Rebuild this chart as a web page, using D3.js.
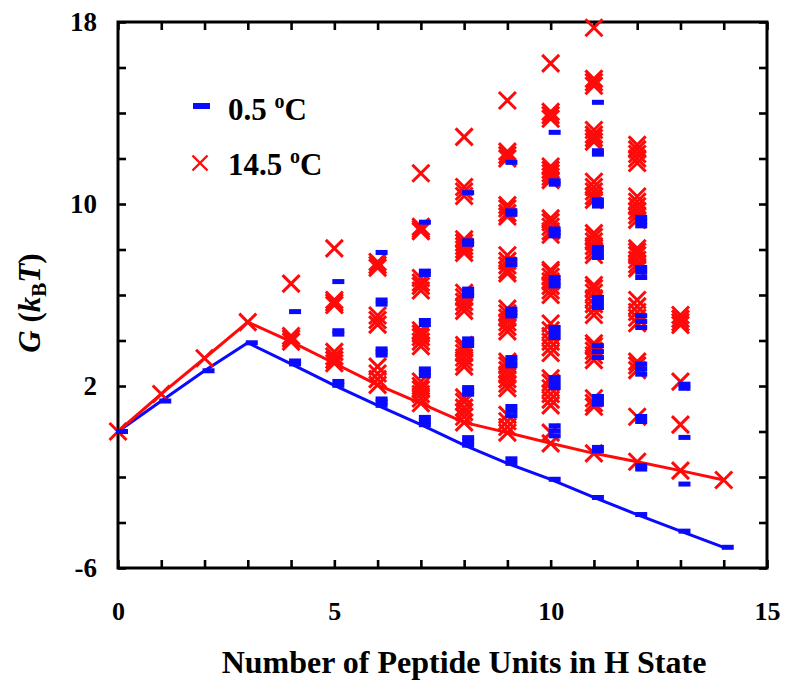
<!DOCTYPE html>
<html>
<head>
<meta charset="utf-8">
<script src="https://cdn.jsdelivr.net/npm/d3@7"></script>
<style>
  html, body { margin: 0; padding: 0; background: #fff; }
  svg { display: block; }
  text { font-family: "Liberation Serif", "Times New Roman", serif; font-weight: bold; fill: #000; }
</style>
</head>
<body>
<svg id="chart" width="785" height="681"></svg>
<script>
// ---- data ----
const nUnits = [0, 1, 2, 3, 4, 5, 6, 7, 8, 9, 10, 11, 12, 13, 14];

// lowest-G path at each n
const blueLine = [0, 1.34, 2.67, 3.9, 2.97, 2.03, 1.15, 0.3, -0.6, -1.4, -2.1, -2.9, -3.65, -4.38, -5.09];
const redLine  = [0, 1.65, 3.22, 4.81, 3.95, 3.0, 2.05, 1.24, 0.4, -0.05, -0.52, -0.96, -1.33, -1.72, -2.13];

// all G values (kBT) at each n, 0.5 °C
const blueG = [
  [0],
  [1.34],
  [2.67],
  [3.9],
  [2.97, 3.1, 5.27],
  [2.03, 2.2, 4.28, 4.43, 6.59],
  [1.15, 1.3, 1.43, 3.36, 3.5, 3.63, 5.6, 5.78, 7.87],
  [0.3, 0.45, 0.62, 2.45, 2.6, 2.75, 4.7, 4.88, 6.9, 7.05, 9.2],
  [-0.6, -0.43, -0.27, 1.64, 1.79, 1.93, 3.78, 3.92, 4.07, 5.96, 6.1, 6.26, 8.23, 8.38, 10.5],
  [-1.4, -1.2, 0.69, 0.9, 1.1, 2.89, 3.07, 3.25, 5.08, 5.22, 5.38, 7.33, 7.55, 9.55, 9.7, 11.83],
  [-2.1, -0.19, 0.03, 0.25, 1.93, 2.15, 2.37, 4.13, 4.35, 4.57, 6.4, 6.58, 6.77, 8.6, 8.75, 8.9, 10.87, 11.02, 13.15],
  [-2.9, -0.85, -0.7, 1.2, 1.38, 1.54, 3.25, 3.51, 3.77, 5.45, 5.67, 5.89, 7.65, 7.87, 8.09, 9.91, 10.05, 10.18, 12.19, 12.34, 14.47],
  [-3.65, -1.65, -1.5, 0.44, 0.66, 2.52, 2.75, 2.96, 4.57, 4.83, 5.09, 6.77, 7.0, 7.21, 9.04, 9.22, 9.41],
  [-4.38, -2.31, -0.26, 1.9, 2.08],
  [-5.09]
];

// all G values (kBT) at each n, 14.5 °C
const redG = [
  [0],
  [1.65],
  [3.22],
  [4.81],
  [3.95, 4.08, 4.2, 6.5],
  [3.0, 3.15, 3.3, 3.5, 5.56, 5.67, 5.78, 8.05],
  [2.05, 2.3, 2.55, 2.85, 4.7, 4.9, 5.1, 7.2, 7.32, 7.45],
  [1.24, 1.45, 1.65, 1.85, 2.0, 2.2, 3.75, 3.95, 4.15, 4.3, 4.45, 6.2, 6.4, 6.55, 6.75, 8.8, 8.9, 9.0, 11.35],
  [0.4, 0.65, 0.85, 1.05, 1.3, 1.5, 2.85, 3.05, 3.25, 3.45, 3.65, 3.8, 5.3, 5.5, 5.7, 5.9, 6.1, 7.85, 8.0, 8.15, 8.3, 8.45, 10.35, 10.55, 10.75, 12.95],
  [-0.05, 0.2, 0.45, 0.73, 1.9, 2.1, 2.3, 2.5, 2.7, 2.9, 3.07, 4.4, 4.6, 4.8, 5.0, 5.2, 5.4, 6.95, 7.1, 7.3, 7.5, 7.75, 9.45, 9.6, 9.8, 9.95, 12.0, 12.15, 12.3, 14.55],
  [-0.52, -0.05, 1.15, 1.4, 1.65, 1.9, 2.15, 2.34, 3.45, 3.7, 3.95, 4.2, 4.45, 4.75, 6.0, 6.2, 6.4, 6.6, 6.8, 7.0, 7.1, 8.65, 8.8, 9.0, 9.2, 9.37, 11.05, 11.2, 11.35, 11.5, 11.65, 13.75, 13.9, 14.05, 16.18],
  [-0.96, 1.09, 1.25, 1.46, 3.14, 3.35, 3.55, 3.75, 3.88, 5.12, 5.35, 5.6, 5.85, 6.1, 6.3, 6.44, 7.76, 7.95, 8.15, 8.35, 8.55, 8.72, 10.18, 10.35, 10.55, 10.75, 10.98, 12.74, 12.9, 13.05, 13.25, 15.2, 15.35, 15.5, 17.75],
  [-1.33, 0.65, 2.7, 2.9, 3.07, 4.76, 5.0, 5.25, 5.5, 5.78, 7.17, 7.35, 7.55, 7.75, 7.9, 8.05, 9.3, 9.5, 9.7, 9.9, 10.1, 10.33, 11.8, 12.0, 12.2, 12.4, 12.6],
  [-1.72, 0.3, 2.19, 4.68, 4.8, 4.95, 5.12],
  [-2.13]
];

const seriesNames = ["0.5", "14.5"];
const xTickLabels = [0, 5, 10, 15];
const yTickLabels = [-6, 2, 10, 18];
const xTicks = d3.range(0, 16, 1);
const yTicks = d3.range(-6, 19, 2);
const xTitle = "Number of Peptide Units in H State";

// ---- layout ----
const BLUE = "#0a0aff", RED = "#ff0a0a";
const svg = d3.select("#chart");
const x = d3.scaleLinear().domain([0, 15]).range([118, 767]);
const y = d3.scaleLinear().domain([-6, 18]).range([568, 22]);

// ticks (inward) via d3 axes
function styleAxis(g) {
  g.select(".domain").remove();
  g.selectAll(".tick line").attr("stroke", "#000").attr("stroke-width", 2.6);
  g.selectAll(".tick text").remove();
}
svg.append("g").attr("transform", `translate(0,${y(-6)})`)
  .call(d3.axisBottom(x).tickValues(xTicks).tickSize(-8).tickFormat("")).call(styleAxis);
svg.append("g").attr("transform", `translate(0,${y(18)})`)
  .call(d3.axisTop(x).tickValues(xTicks).tickSize(-8).tickFormat("")).call(styleAxis);
svg.append("g").attr("transform", `translate(${x(0)},0)`)
  .call(d3.axisLeft(y).tickValues(yTicks).tickSize(-8).tickFormat("")).call(styleAxis);
svg.append("g").attr("transform", `translate(${x(15)},0)`)
  .call(d3.axisRight(y).tickValues(yTicks).tickSize(-8).tickFormat("")).call(styleAxis);

// frame
svg.append("rect")
  .attr("x", x(0)).attr("y", y(18))
  .attr("width", x(15) - x(0)).attr("height", y(-6) - y(18))
  .attr("fill", "none").attr("stroke", "#000").attr("stroke-width", 3);

// tick labels
svg.append("g").selectAll("text").data(xTickLabels).join("text")
  .attr("x", d => x(d) + 0.5).attr("y", 620)
  .attr("text-anchor", "middle").attr("font-size", 26)
  .text(d => d);
svg.append("g").selectAll("text").data(yTickLabels).join("text")
  .attr("x", 97).attr("y", d => y(d) + 9)
  .attr("text-anchor", "end").attr("font-size", 27)
  .text(d => d);

// axis titles
svg.append("text").attr("x", 464).attr("y", 673)
  .attr("text-anchor", "middle").attr("font-size", 32).text(xTitle);

const yt = svg.append("text")
  .attr("transform", "translate(40,303) rotate(-90)")
  .attr("text-anchor", "middle").attr("font-size", 31);
yt.append("tspan").attr("font-style", "italic").text("G");
yt.append("tspan").text(" (");
yt.append("tspan").attr("font-style", "italic").text("k");
yt.append("tspan").attr("font-size", 21).attr("dy", 6).text("B");
yt.append("tspan").attr("font-style", "italic").attr("dy", -6).text("T");
yt.append("tspan").text(")");

// lines
const line = d3.line().x((d, i) => x(nUnits[i])).y(d => y(d));
svg.append("path").datum(blueLine).attr("d", line)
  .attr("fill", "none").attr("stroke", BLUE).attr("stroke-width", 3);
svg.append("path").datum(redLine).attr("d", line)
  .attr("fill", "none").attr("stroke", RED).attr("stroke-width", 3);

// red X markers
const redPts = [];
redG.forEach((vals, i) => vals.forEach(v => redPts.push([nUnits[i], v])));
const xSym = (s) => `M${-s},${-s}L${s},${s}M${-s},${s}L${s},${-s}`;
svg.append("g").selectAll("path").data(redPts).join("path")
  .attr("transform", d => `translate(${x(d[0])},${y(d[1])})`)
  .attr("d", xSym(8.5))
  .attr("fill", "none").attr("stroke", RED).attr("stroke-width", 3);

// blue dash markers
const bluePts = [];
blueG.forEach((vals, i) => vals.forEach(v => bluePts.push([nUnits[i], v])));
svg.append("g").selectAll("rect").data(bluePts).join("rect")
  .attr("x", d => x(d[0]) - 2).attr("y", d => y(d[1]) - 2.5)
  .attr("width", 12).attr("height", 5)
  .attr("fill", BLUE);

// legend
const leg = svg.append("g");
leg.append("rect").attr("x", 193).attr("y", 103).attr("width", 17).attr("height", 6).attr("fill", BLUE);
leg.append("path").attr("transform", "translate(200,163)").attr("d", xSym(7.5))
  .attr("fill", "none").attr("stroke", RED).attr("stroke-width", 2.4);
[[120, seriesNames[0]], [175, seriesNames[1]]].forEach(([by, label]) => {
  const t = leg.append("text").attr("x", 228).attr("y", by).attr("font-size", 31);
  t.append("tspan").text(label + " ");
  t.append("tspan").attr("font-size", 20).attr("dy", -12).text("o");
  t.append("tspan").attr("dy", 12).text("C");
});
</script>
</body>
</html>
